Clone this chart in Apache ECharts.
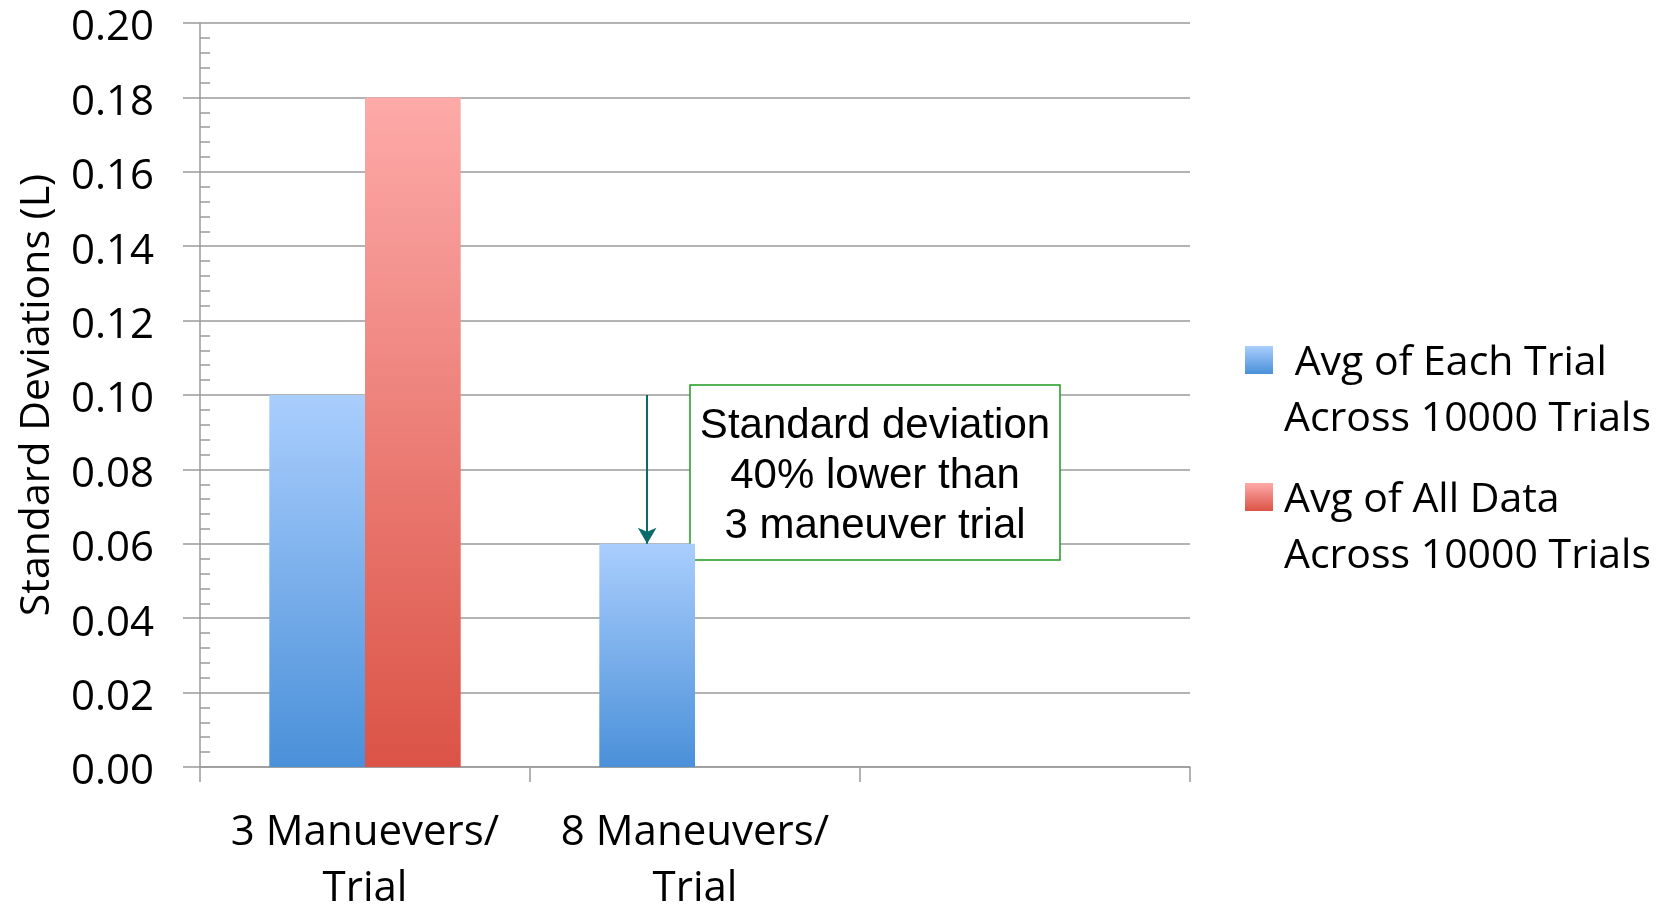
<!DOCTYPE html>
<html>
<head>
<meta charset="utf-8">
<script src="https://cdn.jsdelivr.net/npm/echarts@6/dist/echarts.min.js"></script>
<style>
html, body { margin: 0; padding: 0; background: #fff; }
#chart { width: 1669px; height: 905px; }
</style>
</head>
<body>
<div id="chart"></div>
<script>
// data
const categories = ['3 Manuevers/\nTrial', '8 Maneuvers/\nTrial', '']
const seriesNames = ['Avg of Each Trial Across 10000 Trials', 'Avg of All Data Across 10000 Trials']
const eachTrial = [0.10, 0.06, null]
const allData = [0.18, null, null]
const yMin = 0
const yMax = 0.2
const yStep = 0.02
const noteFrom = 0.10
const noteTo = 0.06
const noteText = 'Standard deviation\n40% lower than\n3 maneuver trial'

const FONT = 'Open Sans'
const GRID = '#9a9a9a'

function grad(top, bottom) {
  return new echarts.graphic.LinearGradient(0, 0, 0, 1, [
    { offset: 0, color: top },
    { offset: 1, color: bottom }
  ])
}

function legendFor(name, top) {
  return {
    data: [name],
    left: 1245,
    top: top,
    padding: 0,
    icon: 'rect',
    itemWidth: 28,
    itemHeight: 28,
    itemGap: 0,
    selectedMode: false,
    // blank first line keeps the square level with the first text line
    formatter: n => {
      let s = n.replace(' Across', '\nAcross')
      return '{g| }\n' + (n === seriesNames[0] ? ' ' + s : s)
    },
    textStyle: {
      fontFamily: FONT,
      fontSize: 41,
      lineHeight: 56,
      color: '#000',
      padding: [0, 0, 0, 6],
      rich: { g: { lineHeight: 62, fontSize: 10 } }
    }
  }
}

let chart = echarts.init(document.getElementById('chart'))
let chartOpt = {
  animation: false,
  textStyle: { fontFamily: FONT },
  legend: [legendFor(seriesNames[0], 273), legendFor(seriesNames[1], 410)],
  grid: {
    left: 200,
    right: 479,
    top: 23,
    bottom: 138,
    containLabel: false,
    outerBoundsMode: 'none'
  },
  xAxis: {
    type: 'category',
    data: categories,
    axisLine: { lineStyle: { color: GRID, width: 1.5 } },
    axisTick: { show: true, length: 15, interval: 0, lineStyle: { color: GRID, width: 1.5 } },
    axisLabel: {
      interval: 0,
      margin: 38,
      fontFamily: FONT,
      fontSize: 42,
      lineHeight: 56,
      color: '#000'
    }
  },
  yAxis: [{
    type: 'value',
    min: yMin,
    max: yMax,
    interval: yStep,
    name: 'Standard Deviations (L)',
    nameLocation: 'middle',
    nameGap: 142,
    nameTextStyle: { fontFamily: FONT, fontSize: 41, color: '#000' },
    axisLine: { show: true, lineStyle: { color: GRID, width: 1.5 } },
    axisTick: { show: false, inside: true },
    minorTick: { show: true, splitNumber: 5, length: 10, lineStyle: { color: GRID, width: 1.5 } },
    axisLabel: {
      margin: 46,
      verticalAlign: 'top',
      lineHeight: 11,
      fontFamily: FONT,
      fontSize: 42,
      color: '#000',
      formatter: v => v.toFixed(2)
    },
    splitLine: { show: true, lineStyle: { color: GRID, width: 1.5 } }
  }, {
    type: 'value',
    position: 'left',
    min: yMin,
    max: yMax,
    interval: yStep,
    axisLine: { show: false },
    axisTick: { show: true, length: 17, lineStyle: { color: GRID, width: 1.5 } },
    axisLabel: { show: false },
    splitLine: { show: false }
  }],
  series: [{
    name: seriesNames[0],
    type: 'bar',
    data: eachTrial,
    barGap: '0%',
    barCategoryGap: '42%',
    itemStyle: {
      color: grad('#aacefd', '#4a90d9'),
      shadowBlur: 4,
      shadowOffsetY: 2,
      shadowColor: 'rgba(0,0,0,0.25)'
    },
    markLine: {
      silent: true,
      symbol: ['none', 'arrow'],
      symbolSize: [14, 16],
      label: { show: false },
      lineStyle: { color: '#0a6a6a', width: 2, type: 'solid' },
      data: [[{ coord: [1, noteFrom] }, { coord: [1, noteTo] }]]
    }
  }, {
    name: seriesNames[1],
    type: 'bar',
    data: allData,
    itemStyle: {
      color: grad('#fdaaa9', '#db5346'),
      shadowBlur: 4,
      shadowOffsetY: 2,
      shadowColor: 'rgba(0,0,0,0.25)'
    }
  }]
}

chart.setOption(chartOpt)

// annotation box next to the 8-maneuver bar
let p = chart.convertToPixel({ gridIndex: 0 }, [1, noteFrom])
chart.setOption({
  graphic: [{
    type: 'group',
    x: p[0] - 5,
    y: p[1] - 10,
    children: [{
      type: 'rect',
      shape: { x: 0, y: 0, width: 370, height: 175 },
      style: { fill: '#fff', stroke: '#1e9a1e', lineWidth: 1.5 }
    }, {
      type: 'text',
      x: 185,
      y: 91,
      style: {
        text: noteText,
        fontFamily: 'Liberation Sans',
        fontSize: 42,
        lineHeight: 50,
        fill: '#000',
        align: 'center',
        verticalAlign: 'middle'
      }
    }]
  }]
})
</script>
</body>
</html>
